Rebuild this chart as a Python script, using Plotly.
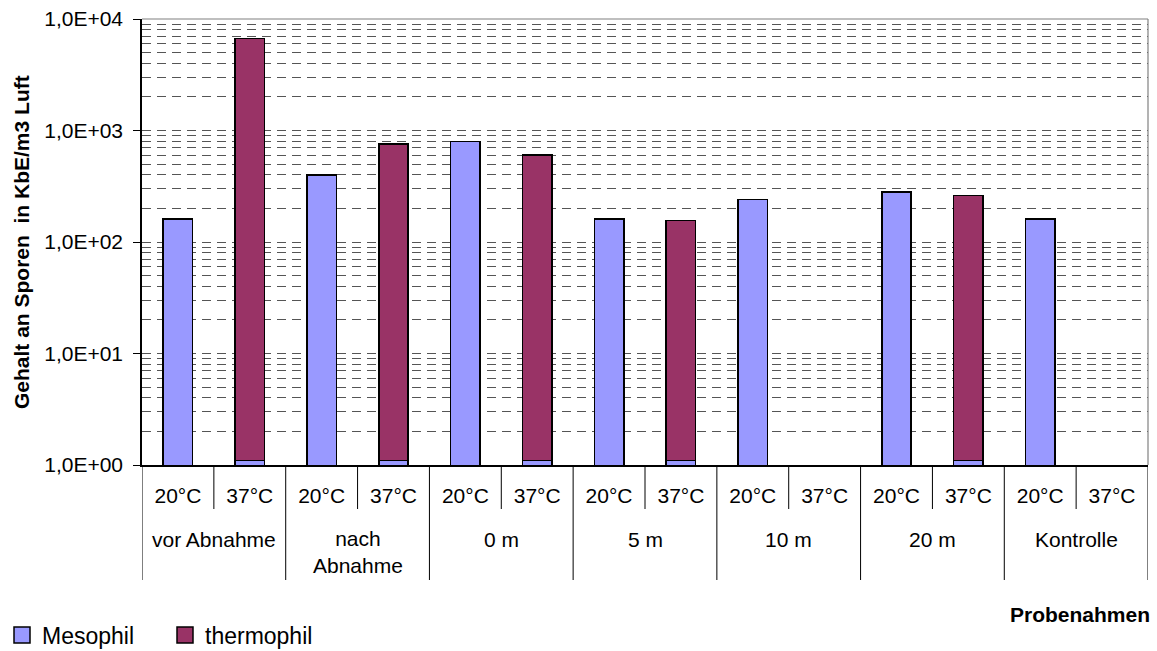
import plotly.graph_objects as go

# ---- data ----
groups = ["vor Abnahme", "nach<br>Abnahme", "0 m", "5 m", "10 m", "20 m", "Kontrolle"]
temps = ["20°C", "37°C"]
mesophil = [160, 1.1, 400, 1.1, 800, 1.1, 160, 1.1, 240, None, 280, 1.1, 160, None]
thermophil = [None, 6700, None, 760, None, 600, None, 155, None, None, None, 260, None, None]
y_tickvals = [1, 10, 100, 1000, 10000]
y_ticktext = ["1,0E+00", "1,0E+01", "1,0E+02", "1,0E+03", "1,0E+04"]

FONT = "Liberation Sans, Arial, sans-serif"
C_MESO = "#9999FF"
C_THERMO = "#993366"

n = len(groups) * len(temps)
xpos = list(range(n))
xlabels = [t for g in groups for t in temps]

W, H = 1157, 651
L, R, T, B = 142, 9, 19, 186
PW, PH = W - L - R, H - T - B


def py(px):  # pixel y -> paper y
    return (H - B - px) / PH


def pxx(px):  # pixel x -> paper x
    return (px - L) / PW


fig = go.Figure()
fig.add_trace(go.Bar(x=xpos, y=mesophil, name="Mesophil", marker=dict(color=C_MESO, line=dict(color="black", width=1.6)),
                     width=0.41, showlegend=False))
fig.add_trace(go.Bar(x=xpos, y=thermophil, name="thermophil", marker=dict(color=C_THERMO, line=dict(color="black", width=1.6)),
                     width=0.41, showlegend=False))
# legend entries
fig.add_trace(go.Scatter(x=[None], y=[None], mode="markers", name="Mesophil",
                         marker=dict(symbol="square", size=16, color=C_MESO, line=dict(color="black", width=1.5))))
fig.add_trace(go.Scatter(x=[None], y=[None], mode="markers", name="thermophil",
                         marker=dict(symbol="square", size=16, color=C_THERMO, line=dict(color="black", width=1.5))))

minor_vals = [m * 10 ** k for k in range(4) for m in range(2, 10)]

shapes = []
# plot border top / right
shapes.append(dict(type="line", xref="paper", yref="paper", x0=0, x1=1, y0=1, y1=1, line=dict(color="#808080", width=1.2)))
shapes.append(dict(type="line", xref="paper", yref="paper", x0=1, x1=1, y0=0, y1=1, line=dict(color="#808080", width=1.2)))
# category dividers below axis
for k in range(n + 1):
    yb = py(580) if k % 2 == 0 else py(509)
    shapes.append(dict(type="line", xref="x", yref="paper", x0=k - 0.5, x1=k - 0.5, y0=0, y1=yb,
                       line=dict(color="black", width=1)))

annotations = []
for i, g in enumerate(groups):
    yc = 552 if "<br>" in g else 539
    annotations.append(dict(x=2 * i + 0.5, xref="x", y=py(yc), yref="paper", text=g, showarrow=False,
                            font=dict(family=FONT, size=21, color="black"), xanchor="center", yanchor="middle"))
annotations.append(dict(x=pxx(1152), xref="paper", y=py(614), yref="paper", text="<b>Probenahmen</b>", showarrow=False,
                        font=dict(family=FONT, size=21, color="black"), xanchor="right", yanchor="middle"))
annotations.append(dict(x=pxx(21), xref="paper", y=py(242), yref="paper", text="<b>Gehalt an Sporen  in KbE/m3 Luft</b>",
                        showarrow=False, textangle=-90, font=dict(family=FONT, size=21, color="black"),
                        xanchor="center", yanchor="middle"))

fig.update_layout(
    width=W, height=H, margin=dict(l=L, r=R, t=T, b=B, pad=0, autoexpand=False),
    paper_bgcolor="white", plot_bgcolor="white",
    barmode="stack", bargap=0.5,
    font=dict(family=FONT, size=21, color="black"),
    showlegend=True,
    legend=dict(orientation="h", xref="container", yref="container", x=2 / W, xanchor="left",
                y=(H - 635) / H, yanchor="middle", traceorder="normal",
                font=dict(family=FONT, size=23, color="black"), entrywidth=118, entrywidthmode="pixels",
                bgcolor="rgba(0,0,0,0)", itemwidth=30),
    xaxis=dict(range=[-0.5, n - 0.5], tickmode="array", tickvals=xpos, ticktext=xlabels, ticks="",
               showline=True, linecolor="black", linewidth=1.5, showgrid=False, zeroline=False, automargin=False,
               tickfont=dict(family=FONT, size=21, color="black"), ticklabelstandoff=11, fixedrange=True),
    yaxis=dict(type="log", range=[0, 4], tickmode="array", tickvals=y_tickvals, ticktext=y_ticktext,
               ticks="outside", ticklen=7, tickcolor="black", tickwidth=1, automargin=False,
               showline=True, linecolor="black", linewidth=1.5,
               showgrid=True, gridcolor="#555555", griddash="9px,6px", gridwidth=1, zeroline=False,
               tickfont=dict(family=FONT, size=21, color="black"), ticklabelstandoff=6,
               minor=dict(tickmode="array", tickvals=minor_vals, ticks="inside", ticklen=6, tickcolor="#555555",
                          showgrid=True, gridcolor="#555555", griddash="9px,6px", gridwidth=1)),
    shapes=shapes,
    annotations=annotations,
)

fig.write_html("out.html", config={"displayModeBar": False},
               post_script="document.body.style.margin='0';document.documentElement.style.overflow='hidden';")
